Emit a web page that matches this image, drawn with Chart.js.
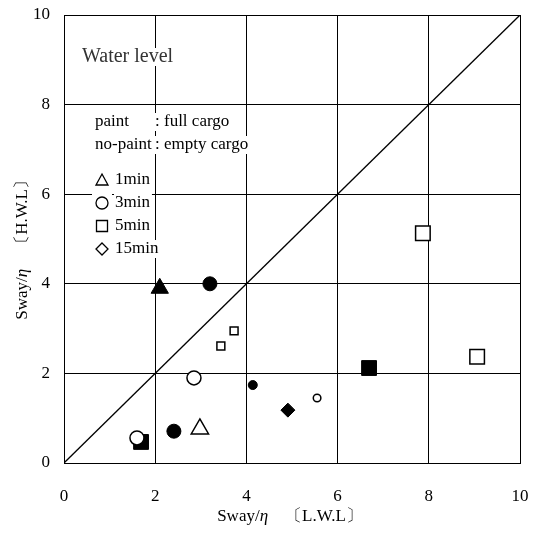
<!DOCTYPE html>
<html>
<head>
<meta charset="utf-8">
<script src="https://cdn.jsdelivr.net/npm/chart.js@4.4.1/dist/chart.umd.min.js"></script>
<style>
  html, body { margin: 0; padding: 0; background: #fff; }
  #wrap { width: 534px; height: 535px; }
</style>
</head>
<body>
<div id="wrap"><canvas id="sway" width="534" height="535"></canvas></div>
<script>
"use strict";

// axis ticks
var axisTicks = [0, 2, 4, 6, 8, 10];

// [L.W.L, H.W.L] pairs
var min1Paint = [[2.10, 3.90]];
var min1NoPaint = [[2.98, 0.76]];
var min3Paint = [[3.20, 4.00], [2.41, 0.71]];
var min3PaintSmall = [[4.14, 1.74]];
var min3NoPaint = [[2.85, 1.90], [1.60, 0.56]];
var min3NoPaintSmall = [[5.55, 1.45]];
var min5Paint = [[1.69, 0.47], [6.69, 2.12]];
var min5NoPaint = [[7.87, 5.13], [9.06, 2.37]];
var min5NoPaintSmall = [[3.73, 2.95], [3.44, 2.61]];
var min15Paint = [[4.91, 1.18]];
var equalLine = [[0, 0], [10, 10]];

var legendNotes = ["paint", ": full cargo", "no-paint", ": empty cargo"];
var legendItems = ["1min", "3min", "5min", "15min"];

var serif = "'Liberation Serif', 'Times New Roman', serif";

function pts(arr) {
    return arr.map(function(p) { return {x: p[0], y: p[1]}; });
}

function marks(label, arr, style, radius, filled) {
    return {
        label: label,
        data: pts(arr),
        showLine: false,
        pointStyle: style,
        pointRadius: radius,
        pointHoverRadius: radius,
        pointBackgroundColor: filled ? "#000" : "#fff",
        pointBorderColor: "#000",
        pointBorderWidth: filled ? 1 : 1.5
    };
}

// little symbol drawer for the hand-made legend
function symbol(ctx, kind, x, y) {
    ctx.save();
    ctx.strokeStyle = "#000";
    ctx.lineWidth = 1.3;
    ctx.beginPath();
    if (kind === 0) {
        ctx.moveTo(x, y - 6); ctx.lineTo(x + 6, y + 5); ctx.lineTo(x - 6, y + 5); ctx.closePath();
    } else if (kind === 1) {
        ctx.arc(x, y, 6, 0, Math.PI * 2);
    } else if (kind === 2) {
        ctx.rect(x - 5.5, y - 5.5, 11, 11);
    } else {
        ctx.moveTo(x, y - 6); ctx.lineTo(x + 6, y); ctx.lineTo(x, y + 6); ctx.lineTo(x - 6, y); ctx.closePath();
    }
    ctx.stroke();
    ctx.restore();
}

function label(ctx, txt, x, y, font, color) {
    ctx.font = font;
    var w = ctx.measureText(txt).width;
    ctx.fillStyle = "#fff";
    ctx.fillRect(x - 1, y - 9, w + 3, 18);
    ctx.fillStyle = color || "#000";
    ctx.fillText(txt, x, y);
}

var notesPlugin = {
    id: "notes",
    afterDatasetsDraw: function(chart) {
        var ctx = chart.ctx;
        ctx.save();
        ctx.textBaseline = "middle";
        ctx.textAlign = "left";
        label(ctx, "Water level", 82, 57, "20px " + serif, "#333");
        label(ctx, legendNotes[0], 95, 122, "17px " + serif);
        label(ctx, legendNotes[2], 95, 145, "17px " + serif);
        label(ctx, legendNotes[1], 155, 122, "17px " + serif);
        label(ctx, legendNotes[3], 155, 145, "17px " + serif);
        for (var i = 0; i < legendItems.length; i++) {
            var yy = 180 + i * 23;
            ctx.fillStyle = "#fff";
            ctx.fillRect(92, yy - 9, 20, 18);
            symbol(ctx, i, 102, yy);
            label(ctx, legendItems[i], 115, yy, "17px " + serif);
        }
        ctx.restore();
    },
    afterDraw: function(chart) {
        // axis titles, eta in italic
        var ctx = chart.ctx;
        function title(prefix, tail) {
            ctx.font = "17px " + serif;
            var w1 = ctx.measureText(prefix).width;
            ctx.font = "italic 17px " + serif;
            var w2 = ctx.measureText("\u03b7").width;
            ctx.font = "17px " + serif;
            var w3 = ctx.measureText(tail).width;
            var x0 = -(w1 + w2 + w3) / 2;
            ctx.fillText(prefix, x0, 0);
            ctx.font = "italic 17px " + serif;
            ctx.fillText("\u03b7", x0 + w1, 0);
            ctx.font = "17px " + serif;
            ctx.fillText(tail, x0 + w1 + w2, 0);
        }
        ctx.save();
        ctx.fillStyle = "#000";
        ctx.textBaseline = "middle";
        ctx.textAlign = "left";
        ctx.translate(290, 517);
        title("Sway/", "\u3000\u3014L.W.L\u3015");
        ctx.restore();
        ctx.save();
        ctx.fillStyle = "#000";
        ctx.textBaseline = "middle";
        ctx.textAlign = "left";
        ctx.translate(23, 246);
        ctx.rotate(-Math.PI / 2);
        title("Sway/", "\u3000\u3014H.W.L\u3015");
        ctx.restore();
    }
};

new Chart(document.getElementById("sway").getContext("2d"), {
    type: "scatter",
    data: {
        datasets: [
            {
                label: "equal",
                data: pts(equalLine),
                showLine: true,
                borderColor: "#000",
                borderWidth: 1.3,
                pointRadius: 0,
                pointHoverRadius: 0
            },
            marks("1min paint", min1Paint, "triangle", 10, true),
            marks("1min no-paint", min1NoPaint, "triangle", 10, false),
            marks("3min paint", min3Paint, "circle", 7, true),
            marks("3min paint small", min3PaintSmall, "circle", 4.5, true),
            marks("3min no-paint", min3NoPaint, "circle", 7, false),
            marks("3min no-paint small", min3NoPaintSmall, "circle", 3.8, false),
            marks("5min paint", min5Paint, "rect", 10.5, true),
            marks("5min no-paint", min5NoPaint, "rect", 10.3, false),
            marks("5min no-paint small", min5NoPaintSmall, "rect", 5.6, false),
            marks("15min paint", min15Paint, "rectRot", 7, true)
        ]
    },
    options: {
        responsive: false,
        animation: false,
        layout: { padding: { top: 15, right: 14, left: 0, bottom: 0 } },
        plugins: {
            legend: { display: false },
            tooltip: { enabled: false }
        },
        scales: {
            x: {
                type: "linear",
                min: 0,
                max: 10,
                afterFit: function(scale) {
                    scale.height = 72;
                    scale.paddingLeft = 0;
                    scale.paddingRight = 0;
                },
                afterBuildTicks: function(scale) {
                    scale.ticks = axisTicks.map(function(v) { return {value: v}; });
                },
                grid: { color: "#000", lineWidth: 1, drawTicks: false },
                border: { color: "#000", width: 1 },
                ticks: {
                    padding: 23,
                    color: "#000",
                    font: { family: serif, size: 17 },
                    maxRotation: 0
                }
            },
            y: {
                type: "linear",
                min: 0,
                max: 10,
                afterFit: function(scale) {
                    scale.width = 64;
                    scale.paddingTop = 0;
                    scale.paddingBottom = 0;
                },
                afterBuildTicks: function(scale) {
                    scale.ticks = axisTicks.map(function(v) { return {value: v}; });
                },
                grid: { color: "#000", lineWidth: 1, drawTicks: false },
                border: { color: "#000", width: 1 },
                ticks: {
                    padding: 14,
                    color: "#000",
                    font: { family: serif, size: 17 }
                }
            }
        }
    },
    plugins: [notesPlugin]
});
</script>
</body>
</html>
